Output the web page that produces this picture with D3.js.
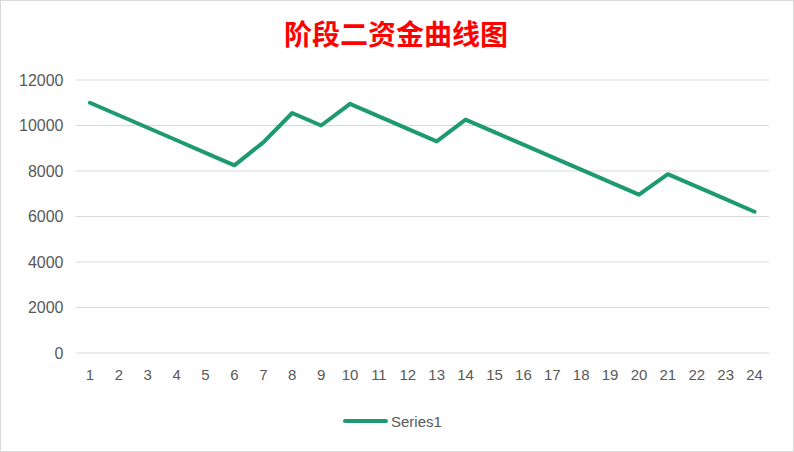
<!DOCTYPE html>
<html>
<head>
<meta charset="utf-8">
<script src="https://cdn.jsdelivr.net/npm/d3@7"></script>
<style>
  body { margin: 0; background: #fff; }
  svg { display: block; }
</style>
</head>
<body>
<svg id="chart"></svg>
<script>
// data
const categories = d3.range(1, 25).map(String);
const series1 = [11000, 10450, 9900, 9350, 8800, 8250, 9260, 10550, 10000, 10950, 10400, 9850,
                 9300, 10260, 9710, 9160, 8610, 8060, 7510, 6960, 7860, 7310, 6760, 6210];
const yTicks = [0, 2000, 4000, 6000, 8000, 10000, 12000];
const title = "阶段二资金曲线图";
const seriesName = "Series1";

const W = 794, H = 452;
const margin = { top: 80, right: 25, bottom: 99, left: 75.5 };
const green = "#1e9a70";
const font = "'Liberation Sans Narrow', 'Liberation Sans', Arial, sans-serif";

const svg = d3.select("#chart").attr("width", W).attr("height", H);

// frame
svg.append("rect")
  .attr("x", 0.5).attr("y", 0.5)
  .attr("width", W - 1).attr("height", H - 1)
  .attr("fill", "#fff").attr("stroke", "#d9d9d9");

svg.append("text")
  .attr("x", 396).attr("y", 45)
  .attr("text-anchor", "middle")
  .attr("fill", "#ff0000")
  .style("font-family", "'Noto Sans CJK SC', sans-serif")
  .style("font-weight", "bold")
  .style("font-size", "28px")
  .text(title);

const xScale = d3.scaleBand()
  .domain(categories)
  .range([margin.left, W - margin.right]);

const yScale = d3.scaleLinear()
  .domain([0, 12000])
  .range([H - margin.bottom, margin.top]);

// grid
svg.append("g")
  .selectAll("line")
  .data(yTicks)
  .join("line")
  .attr("x1", margin.left).attr("x2", W - margin.right)
  .attr("y1", d => yScale(d)).attr("y2", d => yScale(d))
  .attr("stroke", "#d9d9d9").attr("stroke-width", 1);

const yAxis = d3.axisLeft(yScale).tickValues(yTicks).tickFormat(d3.format("d")).tickSize(0).tickPadding(12);
svg.append("g")
  .attr("transform", `translate(${margin.left},0)`)
  .call(yAxis)
  .call(g => g.select(".domain").remove())
  .selectAll("text")
  .attr("fill", "#595959")
  .style("font-family", font)
  .style("font-size", "16px");

const xAxis = d3.axisBottom(xScale).tickSize(0).tickPadding(16);
svg.append("g")
  .attr("transform", `translate(0,${H - margin.bottom})`)
  .call(xAxis)
  .call(g => g.select(".domain").remove())
  .selectAll("text")
  .attr("fill", "#595959")
  .style("font-family", font)
  .style("font-size", "15px");

const line = d3.line()
  .x((d, i) => xScale(categories[i]) + xScale.bandwidth() / 2)
  .y(d => yScale(d));

svg.append("path")
  .datum(series1)
  .attr("d", line)
  .attr("fill", "none")
  .attr("stroke", green)
  .attr("stroke-width", 4)
  .attr("stroke-linejoin", "round")
  .attr("stroke-linecap", "round");

// legend
const lg = svg.append("g").attr("transform", "translate(345,421)");
lg.append("line")
  .attr("x1", 0).attr("x2", 41)
  .attr("stroke", green).attr("stroke-width", 4).attr("stroke-linecap", "round");
lg.append("text")
  .attr("x", 46).attr("y", 5.5)
  .attr("fill", "#595959")
  .style("font-family", font)
  .style("font-size", "15px")
  .text(seriesName);
</script>
</body>
</html>
